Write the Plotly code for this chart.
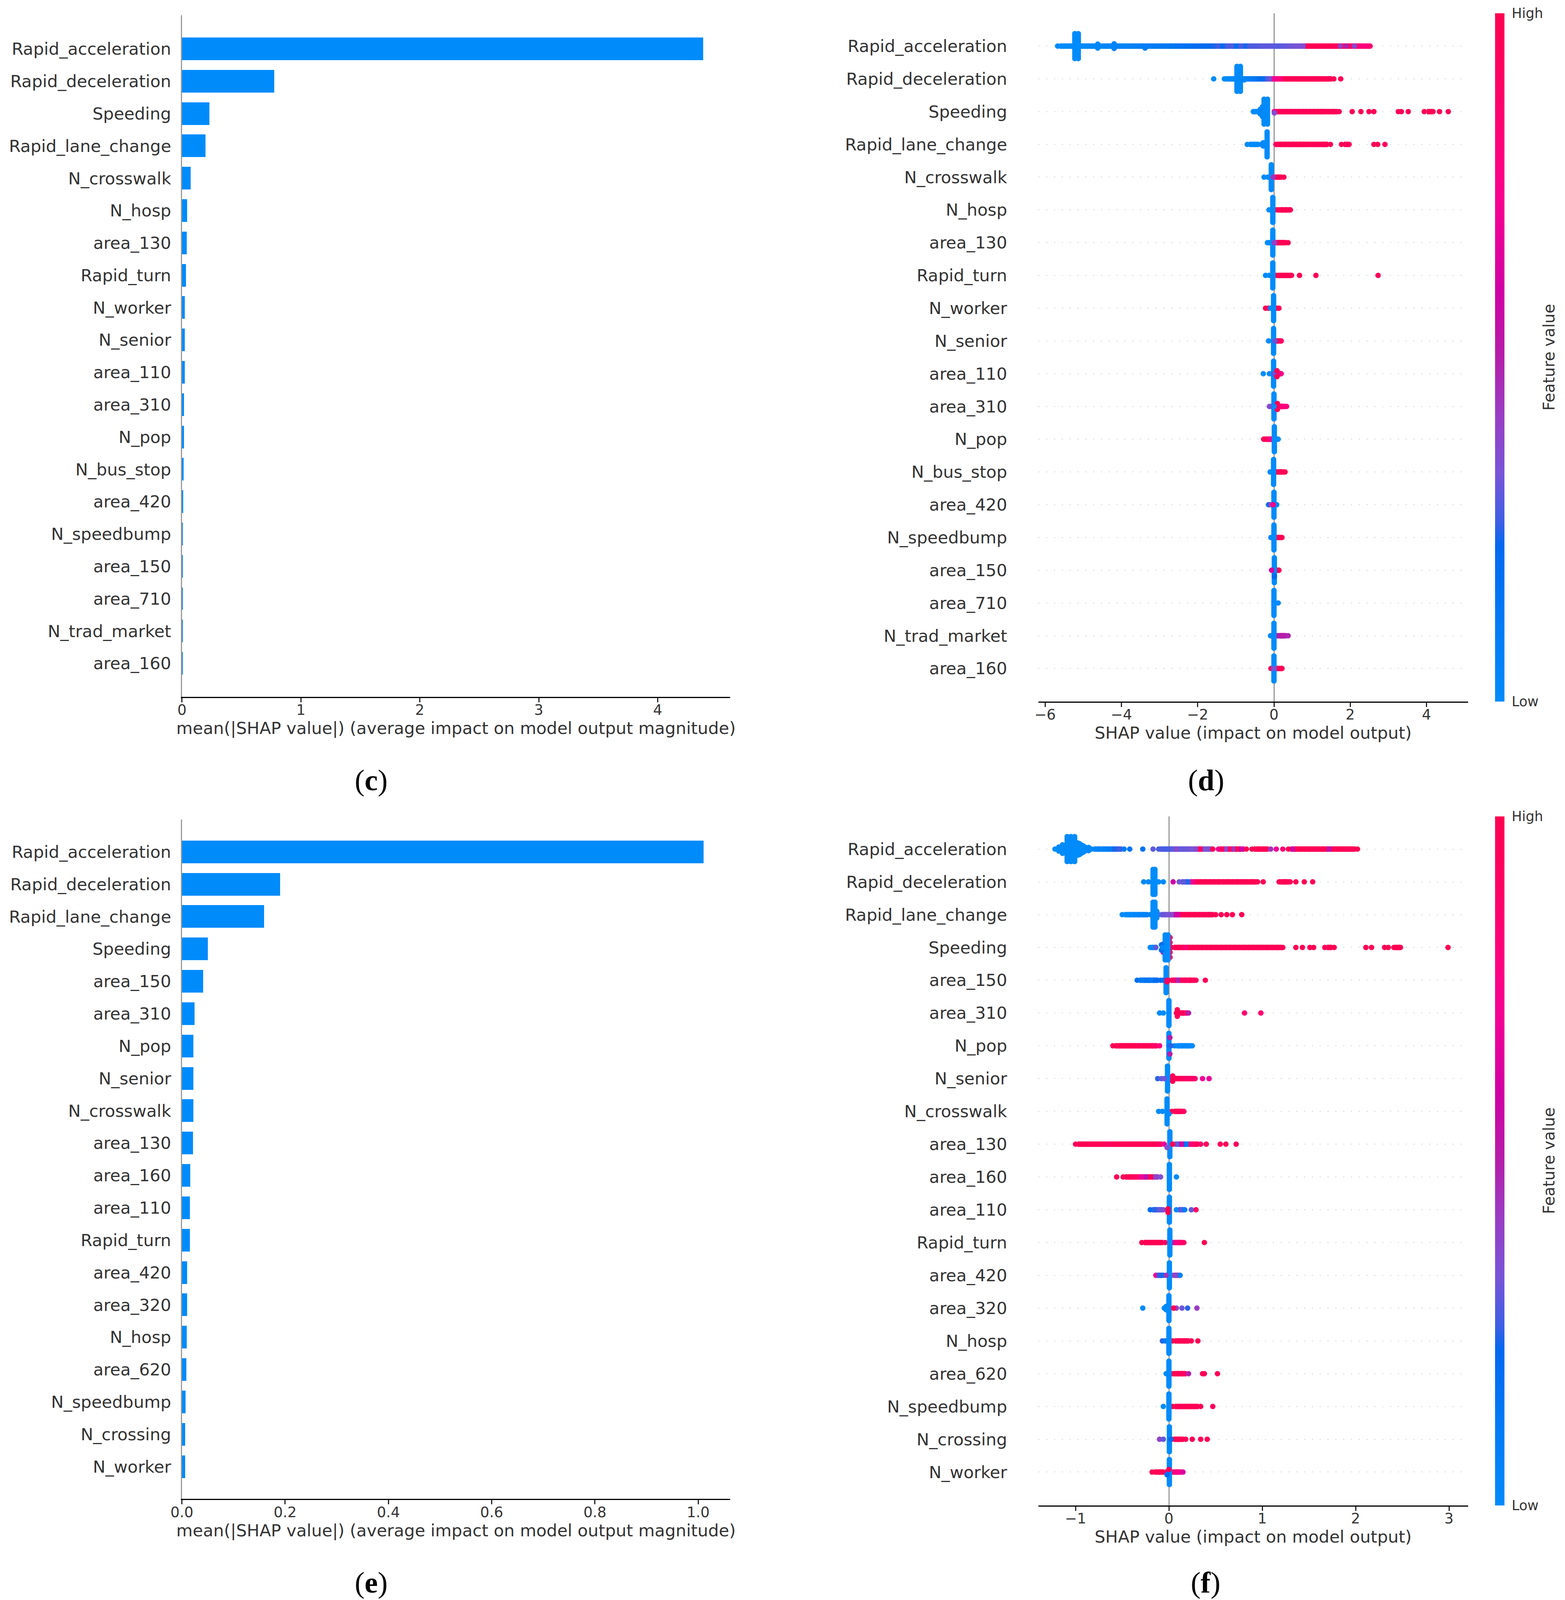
import plotly.graph_objects as go

# ---------- bar panels ----------
features_c = ["Rapid_acceleration","Rapid_deceleration","Speeding","Rapid_lane_change","N_crosswalk","N_hosp","area_130","Rapid_turn","N_worker","N_senior","area_110","area_310","N_pop","N_bus_stop","area_420","N_speedbump","area_150","area_710","N_trad_market","area_160"]
values_c = [4.38,0.774,0.23,0.196,0.072,0.042,0.04,0.032,0.024,0.023,0.022,0.015,0.015,0.014,0.009,0.008,0.008,0.007,0.007,0.007]
ticks_c = [0,1,2,3,4]

features_e = ["Rapid_acceleration","Rapid_deceleration","Rapid_lane_change","Speeding","area_150","area_310","N_pop","N_senior","N_crosswalk","area_130","area_160","area_110","Rapid_turn","area_420","area_320","N_hosp","area_620","N_speedbump","N_crossing","N_worker"]
values_e = [1.01,0.19,0.159,0.05,0.041,0.024,0.022,0.022,0.022,0.021,0.016,0.015,0.015,0.010,0.010,0.009,0.008,0.007,0.006,0.006]
ticks_e = [0,0.2,0.4,0.6,0.8,1.0]
ticktext_e = ["0.0","0.2","0.4","0.6","0.8","1.0"]

# ---------- beeswarm panels: (shap value, feature value) read along each row ----------
ticks_d = [-6,-4,-2,0,2,4]
ticks_f = [-1,0,1,2,3]
SPINE_JITTER = [-.38,-.32,-.26,-.2,-.14,-.08,-.03,.03,.08,.14,.2,.26,.32,.38]

d_strip = {
"Rapid_acceleration":[(-5.67,0),(-5.55,0),(-5.43,0),(-5.31,0),(-5.19,0),(-5.07,0),(-4.95,0),(-4.83,.02),(-4.71,.02),(-4.62,.02),(-4.5,.03),(-4.38,.04),(-4.26,.04),(-4.19,.05),(-4.07,.05),(-3.95,.06),(-3.83,.06),(-3.71,.07),(-3.59,.08),(-3.47,.09),(-3.38,.09),(-3.26,.1),(-3.14,.11),(-3.02,.12),(-2.9,.13),(-2.78,.14),(-2.66,.15),(-2.54,.16),(-2.42,.17),(-2.3,.18),(-2.18,.19),(-2.06,.2),(-1.94,.2),(-1.82,.21),(-1.7,.22),(-1.58,.24),(-1.46,.26),(-1.34,.22),(-1.22,.27),(-1.1,.28),(-.98,.22),(-.86,.28),(-.74,.24),(-.62,.28),(-.5,.28),(-.38,.29),(-.26,.3),(-.14,.3),(-.02,.3),(.1,.29),(.22,.3),(.34,.31),(.46,.32),(.58,.33),(.7,.34),(.82,.36),(.9,.97),(1.02,.98),(1.14,.98),(1.26,.98),(1.38,.97),(1.5,.98),(1.62,.95),(1.74,.95),(1.86,.9),(1.98,.95),(2.1,.8),(2.22,.85),(2.34,.78),(2.46,.8),(2.52,.85)],
"Rapid_deceleration":[(-1.58,0),(-1.3,0),(-1.2,0),(-1.1,0),(-1.0,.02),(-.9,.03),(-.8,.05),(-.7,.07),(-.6,.1),(-.5,.14),(-.38,.2),(-.28,.24),(-.18,.28),(-.08,.32),(.01,.7),(.1,.85),(.2,.8),(.3,.97),(.4,.98),(.5,.98),(.6,.98),(.7,.98),(.8,.98),(.9,.98),(1.0,.98),(1.12,.97),(1.23,.97),(1.31,.97),(1.45,.98),(1.57,.97),(1.75,.98)],
"Speeding":[(-.54,0),(-.46,0),(-.36,.02),(.01,.7),(.1,.95),(.2,.98),(.3,.98),(.4,.98),(.5,.98),(.6,.98),(.7,.98),(.8,.98),(.9,.98),(1.0,.98),(1.1,.98),(1.2,.98),(1.27,.98),(1.38,.98),(1.5,.98),(1.6,.98),(1.71,.98),(2.05,.98),(2.28,.98),(2.49,.98),(2.62,.98),(3.26,.98),(3.34,.98),(3.52,.98),(3.94,.98),(4.08,.98),(4.17,.98),(4.34,.98),(4.57,.98)],
"Rapid_lane_change":[(-.7,0),(-.58,0),(-.46,0),(-.34,.02),(.05,.9),(.14,.98),(.24,.98),(.34,.98),(.44,.98),(.54,.98),(.64,.98),(.74,.98),(.84,.98),(.98,.98),(1.11,.97),(1.25,.98),(1.35,.98),(1.48,.98),(1.77,.98),(1.9,.97),(1.97,.97),(2.62,.98),(2.72,.97),(2.91,.95)],
"N_crosswalk":[(-.26,0),(-.16,0),(.05,.9),(.14,.98),(.26,.98)],
"N_hosp":[(-.13,0),(.07,.98),(.17,.98),(.27,.98),(.37,.98),(.43,.98)],
"area_130":[(-.17,0),(-.08,0),(.06,.7),(.16,.98),(.26,.98),(.37,.98)],
"Rapid_turn":[(-.22,0),(-.12,0),(.07,.98),(.17,.98),(.27,.98),(.38,.98),(.46,.98),(.67,.98),(1.10,.97),(2.73,.95)],
"N_worker":[(-.22,.98),(-.14,.98),(.07,.98),(.13,.97)],
"N_senior":[(-.14,0),(.07,.98),(.13,.98),(.19,.9)],
"area_110":[(-.28,0),(-.12,0),(.07,.85),(.13,.8),(.19,.75)],
"area_310":[(-.12,.33),(-.08,.4),(.09,.98),(.16,.9),(.23,.8),(.33,.8)],
"N_pop":[(-.27,.98),(-.2,.95),(-.13,.9),(-.08,.75),(.04,0),(.11,0)],
"N_bus_stop":[(-.1,0),(.05,.98),(.13,.98),(.21,.98),(.29,.98)],
"area_420":[(-.14,.22),(-.08,.4),(.07,.1)],
"N_speedbump":[(-.08,0),(.07,.85),(.14,.98),(.21,.98)],
"area_150":[(-.06,.6),(.08,.95),(.13,.98)],
"area_710":[(.11,0),(.03,.98)],
"N_trad_market":[(-.09,0),(.09,.52),(.16,.5),(.22,.52),(.27,.5),(.37,.48)],
"area_160":[(-.08,.98),(.07,.98),(.14,.98),(.21,.98)],
}
d_spine = {"Rapid_acceleration":[-5.22,-5.13],"Rapid_deceleration":[-.97,-.88],"Speeding":[-.26,-.17],"Rapid_lane_change":[-.18],"N_crosswalk":[-.07],"N_hosp":[-.03],"area_130":[-.03],"Rapid_turn":[-.03],"N_worker":[-.01],"N_senior":[-.01],"area_110":[-.01],"area_310":[0],"N_pop":[.01],"N_bus_stop":[-.01],"area_420":[0],"N_speedbump":[0],"area_150":[.01],"area_710":[0],"N_trad_market":[0],"area_160":[0]}
d_over = {
"Rapid_acceleration":[(-4.62,-.06,.02),(-4.62,.06,.02),(-4.19,-.07,.05),(-4.19,.07,.05),(-3.38,.06,.09),(1.74,0,.42),(1.9,0,.5),(2.11,0,.38)],
"Rapid_deceleration":[(-.93,-.05,.03),(-.93,.05,.03),(-.78,.03,.04),(-.3,0,.2),(.01,0,.7)],
"Speeding":[(-.3,-.15,.02),(-.3,.15,.02),(-.36,-.07,.02),(-.36,.07,.02),(.01,0,.75),(.01,.04,.35)],
"Rapid_lane_change":[(-.28,-.05,.02),(-.28,.05,.02)],
"N_crosswalk":[(-.02,0,.45)],
"area_130":[(.01,0,.4)],
"N_worker":[(-.09,0,0),(-.04,0,0)],
"N_senior":[(.02,0,.3)],
"area_110":[(.0,0,.3),(.08,-.09,.98),(.08,.09,.98)],
"area_310":[(.09,-.09,.98),(.09,.09,.98),(0,0,0)],
"N_pop":[(.03,0,0)],
"area_420":[(-.02,0,.75)],
"area_150":[(-.06,0,.62),(.01,.15,.15),(.01,.2,.22)],
"area_160":[(0,0,.33)],
}

f_strip = {
"Rapid_acceleration":[(-.83,.03),(-.78,.05),(-.73,.06),(-.68,.08),(-.63,.1),(-.58,.24),(-.53,.26),(-.48,.12),(-.42,.14),(-.28,.17),(-.17,.3),(-.11,.27),(-.07,.28),(-.03,.27),(.01,.28),(.05,.3),(.09,.38),(.13,.31),(.17,.31),(.21,.32),(.25,.33),(.3,.38),(.34,.9),(.39,.33),(.44,.36),(.47,.97),(.53,.7),(.57,.95),(.62,.4),(.66,.9),(.7,.45),(.74,.97),(.78,.6),(.83,.97),(.89,.98),(.94,.98),(.99,.98),(1.04,.98),(1.09,.45),(1.15,.7),(1.22,.85),(1.28,.98),(1.33,.6),(1.38,.98),(1.43,.98),(1.48,.98),(1.53,.98),(1.58,.95),(1.63,.98),(1.67,.98),(1.72,.55),(1.77,.98),(1.82,.98),(1.87,.98),(1.92,.95),(1.97,.98),(2.02,.98)],
"Rapid_deceleration":[(.045,.6),(.11,.32),(.16,.3),(.21,.25),(.26,.75),(.31,.98),(.36,.98),(.41,.98),(.46,.98),(.51,.98),(.56,.98),(.61,.98),(.66,.98),(.71,.98),(.76,.98),(.81,.98),(.86,.98),(.91,.98),(.95,.98),(1.01,.98),(1.18,.98),(1.22,.98),(1.26,.98),(1.3,.98),(1.36,.98),(1.45,.98),(1.54,.97)],
"Rapid_lane_change":[(-.5,0),(-.45,0),(-.4,.02),(-.35,.03),(-.3,.05),(-.25,.06),(-.2,.07),(-.11,.3),(-.06,.31),(-.01,.33),(.04,.38),(.08,.55),(.1,.62),(.15,.98),(.2,.98),(.25,.98),(.3,.98),(.35,.98),(.4,.98),(.45,.98),(.5,.98),(.56,.97),(.62,.98),(.68,.98),(.78,.97)],
"Speeding":[(-.2,0),(-.16,.02),(-.14,.3),(.03,.98),(.08,.98),(.13,.97),(.18,.85),(.23,.98),(.28,.98),(.33,.98),(.38,.98),(.43,.98),(.48,.98),(.53,.98),(.58,.98),(.63,.98),(.68,.98),(.73,.98),(.78,.98),(.83,.98),(.88,.98),(.93,.98),(.98,.98),(1.03,.98),(1.08,.98),(1.13,.98),(1.18,.98),(1.22,.98),(1.36,.98),(1.43,.98),(1.51,.98),(1.55,.98),(1.67,.98),(1.72,.98),(1.77,.98),(2.11,.98),(2.17,.98),(2.31,.98),(2.35,.98),(2.41,.98),(2.45,.98),(2.48,.98),(2.99,.98)],
"area_150":[(-.34,.2),(-.29,.12),(-.24,.16),(-.19,.14),(-.14,.22),(-.09,.2),(.0,.95),(.05,.9),(.1,.5),(.15,.95),(.2,.9),(.25,.97),(.29,.95),(.39,.95)],
"area_310":[(-.1,0),(-.06,0),(.08,.98),(.13,.97),(.17,.9),(.21,.5),(.81,.85),(.985,.85)],
"N_pop":[(-.6,.98),(-.55,.98),(-.5,.98),(-.45,.97),(-.4,.98),(-.35,.98),(-.3,.95),(-.25,.98),(-.2,.95),(-.15,.9),(-.1,.8),(.06,.02),(.11,0),(.16,.02),(.21,0),(.25,0)],
"N_senior":[(-.12,.25),(-.08,.3),(.04,.98),(.09,.98),(.14,.95),(.19,.9),(.24,.9),(.28,.85),(.36,.7),(.43,.7)],
"N_crosswalk":[(-.11,0),(-.07,0),(.03,.95),(.08,.98),(.12,.95),(.16,.9)],
"area_130":[(-1.0,.98),(-.95,.98),(-.9,.98),(-.85,.98),(-.8,.98),(-.75,.98),(-.7,.97),(-.65,.95),(-.6,.97),(-.55,.98),(-.5,.97),(-.45,.98),(-.4,.98),(-.35,.97),(-.3,.98),(-.25,.98),(-.2,.98),(-.15,.98),(-.1,.9),(-.05,.7),(.04,.98),(.09,.3),(.14,.6),(.19,.15),(.24,.85),(.29,.95),(.34,.9),(.4,.95),(.55,.98),(.61,.97),(.72,.95)],
"area_160":[(-.56,.98),(-.49,.98),(-.44,.98),(-.39,.95),(-.34,.9),(-.29,.7),(-.24,.55),(-.19,.98),(-.14,.4),(-.09,.35),(.08,0)],
"area_110":[(-.2,.2),(-.15,.25),(-.1,.3),(-.06,.35),(.08,.03),(.13,.3),(.17,.1),(.24,.3),(.29,.9)],
"Rapid_turn":[(-.29,.98),(-.24,.98),(-.19,.98),(-.14,.98),(-.09,.98),(-.04,.95),(.04,.6),(.08,.75),(.12,.85),(.16,.9),(.38,.98)],
"area_420":[(-.14,.7),(-.1,.25),(-.06,.2),(.05,.4),(.09,.4),(.12,.05)],
"area_320":[(-.28,0),(-.05,0),(.05,.98),(.08,.4),(.14,.32),(.2,.25),(.3,.42)],
"N_hosp":[(-.07,.25),(-.04,.1),(.04,.98),(.09,.98),(.14,.98),(.19,.98),(.24,.98),(.31,.97)],
"area_620":[(.04,.98),(.08,.98),(.12,.98),(.16,.9),(.21,.5),(.36,.97),(.38,.97),(.52,.97)],
"N_speedbump":[(-.06,0),(.04,.98),(.09,.98),(.14,.97),(.19,.98),(.24,.98),(.29,.97),(.34,.98),(.47,.95)],
"N_crossing":[(-.1,.4),(-.06,.3),(.03,.98),(.08,.98),(.13,.98),(.18,.97),(.25,.98),(.34,.97),(.41,.97)],
"N_worker":[(-.18,.98),(-.13,.98),(-.08,.98),(-.03,.95),(.03,.75),(.07,.8),(.11,.75),(.15,.65)],
}
f_spine = {"Rapid_acceleration":[-1.09,-1.05,-1.01],"Rapid_deceleration":[-.17,-.15],"Rapid_lane_change":[-.17,-.15],"Speeding":[-.04,-.01],"area_150":[-.03],"area_310":[0],"N_pop":[0],"N_senior":[-.015],"N_crosswalk":[-.02],"area_130":[.01],"area_160":[.005],"area_110":[.005],"Rapid_turn":[.01],"area_420":[.005],"area_320":[0],"N_hosp":[0],"area_620":[0],"N_speedbump":[0],"N_crossing":[.005],"N_worker":[.005]}
f_under = {"Speeding":[(.012,-.3,.9),(.012,-.15,.98),(.012,.15,.98),(.012,.3,.95),(-.06,-.1,.6),(-.06,.15,.6)]}
f_over = {
"Rapid_acceleration":[(-1.22,0,0),(-1.18,0,0),(-1.14,0,0),(-1.1,0,0),(-.98,0,0),(-.94,0,0),(-.9,0,.02),(-.86,0,.03),(-1.18,-.06,0),(-1.18,.06,0),(-1.14,-.07,0),(-1.14,.07,0),(-.98,-.07,0),(-.98,.07,0),(-.94,-.07,0),(-.94,.07,0),(-.9,-.06,0),(-.9,.06,0),(-.86,-.05,.02),(-.86,.05,.02),(-1.14,-.13,0),(-1.14,.13,0),(-.98,-.14,0),(-.98,.14,0),(-.94,-.13,0),(-.94,.13,0),(-.92,-.1,0),(-.92,.1,0),(-.98,-.19,0),(-.98,.19,0),(-.96,-.17,0),(-.96,.17,0)],
"Rapid_deceleration":[(-.27,0,.02),(-.22,0,.02),(-.11,0,0),(-.06,0,.02)],
"Rapid_lane_change":[(-.13,-.1,0),(-.13,.1,0),(-.13,0,0)],
"Speeding":[(-.08,-.08,.2),(-.08,.08,.2),(-.07,0,.02)],
"area_150":[(-.06,0,.2),(-.02,.05,.95),(-.02,0,.9)],
"area_310":[(.09,-.1,.98),(.09,.1,.98),(.09,0,.98),(0,0,0)],
"N_pop":[(.0,0,.08),(.02,0,.25),(.01,-.25,.5),(.01,.25,.5)],
"N_senior":[(.04,-.08,.98),(.04,.08,.98),(-.05,0,.32)],
"N_crosswalk":[(.0,.08,0)],
"area_130":[(.04,.0,.98),(-.02,.1,.35)],
"area_110":[(-.01,.03,.98),(-.01,-.03,.98),(-.01,.08,.98)],
"area_420":[(-.03,0,.45)],
"area_320":[(-.03,-.05,0),(-.03,.05,0),(.05,0,.98)],
"area_620":[(-.03,0,0)],
"N_crossing":[(.02,0,.2)],
"N_worker":[(-.02,.08,.2),(0,-.08,.98)],
}

colorscale = [[0,"rgb(0,139,251)"],[.1,"rgb(0,125,245)"],[.225,"rgb(0,105,238)"],[.26,"rgb(60,95,228)"],[.33,"rgb(120,85,215)"],[.42,"rgb(155,60,195)"],[.5,"rgb(180,30,170)"],[.6,"rgb(208,0,165)"],[.7,"rgb(240,0,150)"],[.78,"rgb(255,0,130)"],[.9,"rgb(255,0,100)"],[1,"rgb(255,0,81)"]]

W, H = 4006, 4910
BLUE = "#008bfb"
INK = "#333333"
DOT = 14
def px(v): return v / W
def py(v): return 1 - v / H

fig = go.Figure()

def axis_common():
    return dict(showline=True, linecolor="black", linewidth=3, ticks="outside", ticklen=11, tickwidth=3, tickcolor="#222222", automargin=False,
                ticklabelstandoff=-12, tickfont=dict(family="DejaVu Sans", size=37, color=INK), showgrid=False, zeroline=False)

def bar_panel(idx, features, values, xmax, tickvals, ticktext, top, bottom, yr):
    fig.add_trace(go.Bar(x=values, y=list(range(len(features))), orientation="h", width=0.7, marker=dict(color=BLUE, line=dict(width=0)),
                         xaxis=f"x{idx}", yaxis=f"y{idx}", showlegend=False))
    fig.layout[f"xaxis{idx}"] = dict(domain=[px(465.7), px(1869)], range=[0, xmax], anchor=f"y{idx}", tickvals=tickvals, ticktext=ticktext,
        title=dict(text="mean(|SHAP value|) (average impact on model output magnitude)", font=dict(family="DejaVu Sans", size=43, color=INK), standoff=2), **axis_common())
    fig.layout[f"yaxis{idx}"] = dict(domain=[py(bottom), py(top)], range=yr, anchor=f"x{idx}", tickvals=list(range(len(features))), ticktext=features,
        tickfont=dict(family="DejaVu Sans", size=43, color=INK), ticks="outside", ticklen=16, tickcolor="rgba(0,0,0,0)", automargin=False,
        showline=True, linecolor="#999999", linewidth=3, layer="below traces", showgrid=False, zeroline=False)

def swarm_panel(idx, features, strip, spine, over, under, xr, tickvals, top, bottom, yr, caxis):
    unit = 1100.4 / (xr[1] - xr[0])  # screen width of one x unit, used only to tell touching dots from lone ones
    for i, name in enumerate(features):
        xs, ys, cs, syms = [], [], [], []
        for x, j, v in under.get(name, []):
            xs.append(x); ys.append(i + j); cs.append(v); syms.append("circle")
        row = sorted(strip[name])
        for k, (x, v) in enumerate(row):
            left = k > 0 and (x - row[k - 1][0]) * unit <= DOT
            right = k < len(row) - 1 and (row[k + 1][0] - x) * unit <= DOT
            xs.append(x); ys.append(i); cs.append(v); syms.append("square" if left and right else "circle")
        for x in spine[name]:
            for j in SPINE_JITTER:
                xs.append(x); ys.append(i + j); cs.append(0); syms.append("circle")
        for x, j, v in over.get(name, []):
            xs.append(x); ys.append(i + j); cs.append(v); syms.append("circle")
        fig.add_trace(go.Scatter(x=xs, y=ys, mode="markers", name=name, showlegend=False, cliponaxis=False,
                                 marker=dict(size=DOT, symbol=syms, color=cs, coloraxis=caxis, line=dict(width=0)),
                                 xaxis=f"x{idx}", yaxis=f"y{idx}"))
    c = axis_common()
    c.update(zeroline=True, zerolinecolor="#999999", zerolinewidth=3)
    fig.layout[f"xaxis{idx}"] = dict(domain=[px(2657.6), px(3758)], range=xr, anchor=f"y{idx}", tickvals=tickvals,
        title=dict(text="SHAP value (impact on model output)", font=dict(family="DejaVu Sans", size=43, color=INK), standoff=2), **c)
    fig.layout[f"yaxis{idx}"] = dict(domain=[py(bottom), py(top)], range=yr, anchor=f"x{idx}", tickvals=list(range(len(features))), ticktext=features,
        tickfont=dict(family="DejaVu Sans", size=43, color=INK), ticks="outside", ticklen=70, tickcolor="rgba(0,0,0,0)", automargin=False,
        showline=False, showgrid=True, gridcolor="#d4d4d4", gridwidth=2, griddash="3px,17px", zeroline=False)
    bar_h = (bottom - top) / H
    fig.layout[caxis] = dict(cmin=0, cmax=1, colorscale=colorscale, colorbar=dict(
        x=px(3827), xanchor="left", xpad=0, y=py(bottom), yanchor="bottom", ypad=0, len=bar_h, lenmode="fraction", thickness=24,
        outlinewidth=0, tickvals=[1, 0], ticktext=["High", "Low"], ticks="outside", ticklen=12, tickcolor="rgba(0,0,0,0)",
        tickfont=dict(family="DejaVu Sans", size=35, color=INK)))
    fig.add_annotation(text="Feature value", xref="paper", yref="paper", x=px(3965), y=py((top + bottom) / 2), textangle=-90, showarrow=False,
                       xanchor="center", yanchor="middle", font=dict(family="DejaVu Sans", size=40, color=INK))

features_d = features_c[:]
features_f = features_e[:]

bar_panel(1, features_c, values_c, 4.609, ticks_c, [str(t) for t in ticks_c], 47, 2138, [20.03, -1.04])
swarm_panel(2, features_d, d_strip, d_spine, d_over, {}, [-6.18, 5.09], ticks_d, 41, 2153, [20.01, -1.0], "coloraxis")
bar_panel(3, features_e, values_e, 1.062, ticks_e, ticktext_e, 2515, 4600, [20.0, -1.0])
swarm_panel(4, features_f, f_strip, f_spine, f_over, f_under, [-1.40, 3.205], ticks_f, 2505, 4620, [20.02, -1.0], "coloraxis2")

captions = [("c", 950, 2394), ("d", 3087, 2394), ("e", 950, 4857), ("f", 3086, 4857)]
for letter, cx, cy in captions:
    fig.add_annotation(text=f"(<b>{letter}</b>)", xref="paper", yref="paper", x=px(cx), y=py(cy), showarrow=False,
                       xanchor="center", yanchor="middle", font=dict(family="Liberation Serif", size=76, color="black"))

fig.update_layout(width=W, height=H, autosize=False, margin=dict(l=0, r=0, t=0, b=0, autoexpand=False), paper_bgcolor="white", plot_bgcolor="white",
                  bargap=0, showlegend=False, font=dict(family="DejaVu Sans"))

# The browser may give a shorter viewport than the figure asks for (measured: 4096 of 4910);
# the whole figure is then fitted to it so nothing is cut off at the bottom.
fit = """
document.body.style.margin='0';
var gd=document.getElementById('{plot_id}');
if(window.innerHeight<gd.layout.height){Plotly.relayout(gd,{height:window.innerHeight});}
"""
fig.write_html("out.html", config={"displayModeBar": False}, post_script=fit)
